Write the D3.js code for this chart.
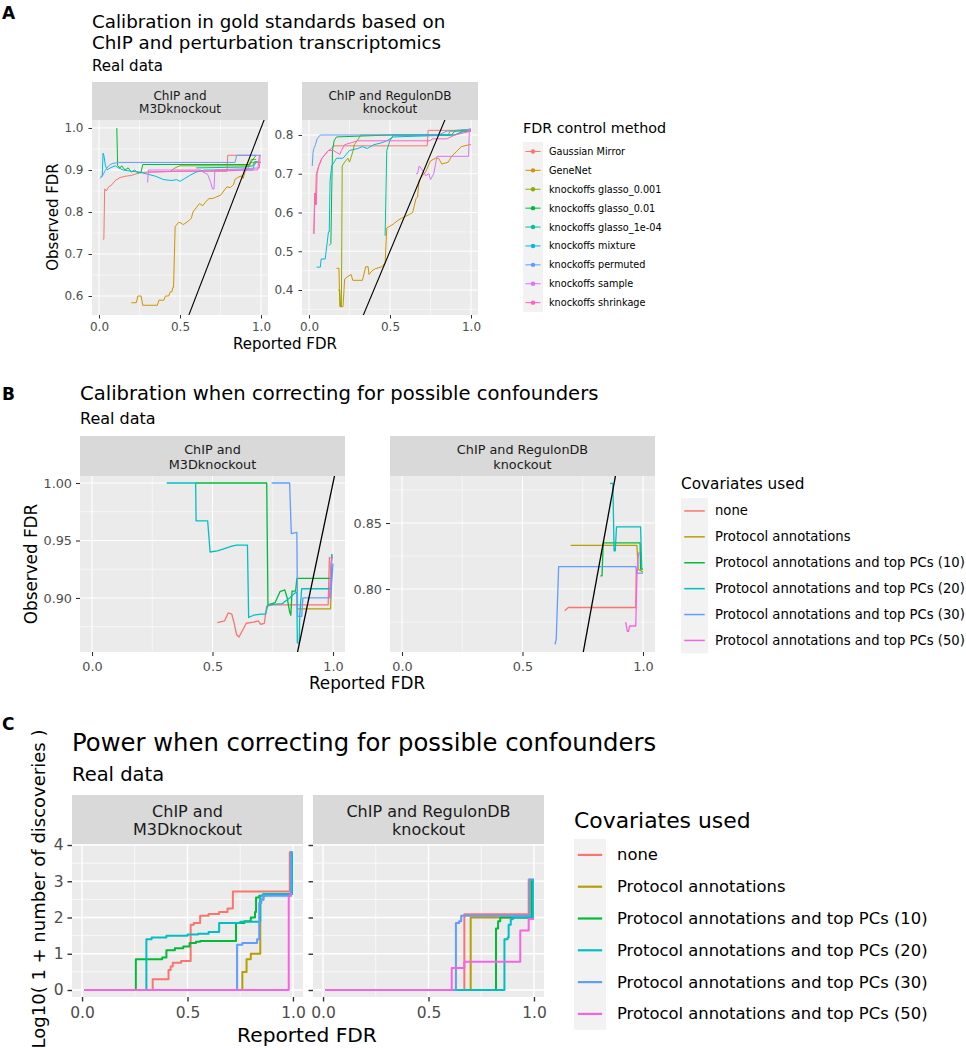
<!DOCTYPE html>
<html><head><meta charset="utf-8">
<script src="https://cdn.jsdelivr.net/npm/d3@7"></script>
<style>body{margin:0;background:#fff}svg{display:block;font-family:"DejaVu Sans",sans-serif}</style>
</head><body><svg id="c" width="966" height="1050"></svg>
<script>
// ---------------- categories ----------------
const methodsA = ["Gaussian Mirror","GeneNet","knockoffs glasso_0.001","knockoffs glasso_0.01","knockoffs glasso_1e-04","knockoffs mixture","knockoffs permuted","knockoffs sample","knockoffs shrinkage"];
const colorsA = ["#F8766D","#D39200","#93AA00","#00BA38","#00C19F","#00B9E3","#619CFF","#DB72FB","#FF61C3"];
const covariates = ["none","Protocol annotations","Protocol annotations and top PCs (10)","Protocol annotations and top PCs (20)","Protocol annotations and top PCs (30)","Protocol annotations and top PCs (50)"];
const colorsCov = ["#F8766D","#B79F00","#00BA38","#00BFC4","#619CFF","#F564E3"];
const facetM3D = ["ChIP and","M3Dknockout"];
const facetReg = ["ChIP and RegulonDB","knockout"];

// ---------------- tick values / labels ----------------
const xTicks = [0, 0.5, 1];
const xTickLabels = ["0.0","0.5","1.0"];
const yTicksA1 = [0.6,0.7,0.8,0.9,1.0];
const yTickLabelsA1 = ["0.6","0.7","0.8","0.9","1.0"];
const yTicksA2 = [0.4,0.5,0.6,0.7,0.8];
const yTickLabelsA2 = ["0.4","0.5","0.6","0.7","0.8"];
const yTicksB1 = [0.90,0.95,1.00];
const yTickLabelsB1 = ["0.90","0.95","1.00"];
const yTicksB2 = [0.80,0.85];
const yTickLabelsB2 = ["0.80","0.85"];
const yTicksC = [0,1,2,3,4];
const yTickLabelsC = ["0","1","2","3","4"];

// ---------------- Panel A: ChIP and M3Dknockout  [reported FDR, observed FDR] ----------------
const aM3D_gaussianMirror = [[0.025,0.735],[0.03,0.735],[0.035,0.855],[0.045,0.85],[0.06,0.86],[0.08,0.865],[0.1,0.875],[0.13,0.882],[0.16,0.885],[0.2,0.887],[0.25,0.893],[0.3,0.895],[0.5,0.897],[0.79,0.897],[0.795,0.935],[0.97,0.935]];
const aM3D_geneNet = [[0.2,0.584],[0.23,0.584],[0.24,0.6],[0.26,0.6],[0.27,0.578],[0.36,0.578],[0.37,0.59],[0.4,0.59],[0.41,0.6],[0.43,0.6],[0.44,0.61],[0.45,0.61],[0.455,0.62],[0.46,0.62],[0.47,0.765],[0.49,0.775],[0.5,0.775],[0.52,0.77],[0.55,0.778],[0.57,0.785],[0.58,0.8],[0.6,0.81],[0.62,0.82],[0.64,0.815],[0.66,0.825],[0.68,0.832],[0.7,0.832],[0.72,0.835],[0.75,0.84],[0.77,0.85],[0.79,0.86],[0.81,0.858],[0.83,0.865],[0.84,0.878],[0.86,0.883],[0.88,0.886],[0.89,0.88],[0.9,0.895],[0.92,0.905],[0.93,0.918],[1.0,0.918]];
const aM3D_glasso001 = [[0.44,0.895],[0.45,0.9],[0.47,0.905],[0.5,0.91],[0.93,0.91],[0.94,0.925],[0.97,0.925]];
const aM3D_glasso01 = [[0.11,1.0],[0.115,0.91],[0.13,0.905],[0.14,0.91],[0.16,0.9],[0.18,0.905],[0.2,0.895],[0.22,0.9],[0.24,0.893],[0.26,0.895],[0.27,0.913],[0.93,0.913],[0.94,0.92],[0.96,0.93],[0.97,0.935]];
const aM3D_glasso1e4 = [[0.6,0.905],[0.9,0.907],[0.95,0.91],[0.96,0.92],[0.98,0.92]];
const aM3D_mixture = [[0.01,0.885],[0.02,0.885],[0.025,0.94],[0.03,0.935],[0.04,0.91],[0.05,0.9],[0.07,0.905],[0.1,0.91],[0.12,0.905],[0.15,0.9],[0.2,0.897],[0.25,0.895],[0.3,0.89],[0.35,0.885],[0.4,0.877],[0.45,0.875],[0.48,0.877],[0.5,0.873],[0.53,0.88],[0.56,0.887],[0.6,0.895],[0.65,0.9],[0.95,0.9],[0.96,0.915],[0.97,0.915]];
const aM3D_permuted = [[0.005,0.88],[0.02,0.885],[0.04,0.9],[0.06,0.91],[0.08,0.915],[0.12,0.918],[0.84,0.918],[0.85,0.935],[1.0,0.935]];
const aM3D_sample = [[0.3,0.87],[0.305,0.9],[0.63,0.9],[0.64,0.895],[0.67,0.89],[0.69,0.87],[0.7,0.855],[0.71,0.855],[0.715,0.9],[0.9,0.903],[0.99,0.905],[0.995,0.935]];
const aM3D_shrinkage = [[0.3,0.895],[0.5,0.897],[0.8,0.898],[0.9,0.9],[0.98,0.9],[0.99,0.935]];

// ---------------- Panel A: ChIP and RegulonDB knockout ----------------
const aReg_gaussianMirror = [[0.03,0.545],[0.035,0.65],[0.04,0.62],[0.045,0.7],[0.06,0.72],[0.08,0.74],[0.1,0.75],[0.12,0.76],[0.14,0.765],[0.15,0.772],[0.73,0.772],[0.735,0.812],[1.0,0.812]];
const aReg_geneNet = [[0.17,0.456],[0.185,0.456],[0.19,0.357],[0.21,0.357],[0.22,0.428],[0.24,0.435],[0.26,0.44],[0.27,0.425],[0.33,0.425],[0.35,0.46],[0.365,0.46],[0.37,0.44],[0.39,0.45],[0.41,0.455],[0.45,0.46],[0.47,0.47],[0.48,0.56],[0.5,0.565],[0.52,0.57],[0.55,0.58],[0.57,0.585],[0.62,0.595],[0.64,0.6],[0.66,0.635],[0.67,0.64],[0.68,0.683],[0.7,0.695],[0.72,0.705],[0.75,0.733],[0.78,0.74],[0.8,0.74],[0.82,0.725],[0.86,0.73],[0.88,0.745],[0.91,0.757],[0.94,0.77],[0.99,0.775],[1.0,0.775]];
const aReg_glasso001 = [[0.18,0.4],[0.19,0.4],[0.195,0.357],[0.2,0.357],[0.205,0.72],[0.22,0.73],[0.24,0.74],[0.25,0.73],[0.27,0.756],[0.28,0.775],[0.3,0.787],[0.32,0.8],[0.86,0.8],[0.87,0.81],[1.0,0.81]];
const aReg_glasso01 = [[0.125,0.515],[0.135,0.52],[0.14,0.65],[0.145,0.76],[0.155,0.785],[0.17,0.795],[0.5,0.8],[0.88,0.8],[0.9,0.81],[1.0,0.815]];
const aReg_glasso1e4 = [[0.47,0.54],[0.475,0.65],[0.48,0.76],[0.5,0.785],[0.52,0.8],[0.9,0.8],[0.95,0.808],[1.0,0.81]];
const aReg_mixture = [[0.047,0.459],[0.07,0.459],[0.075,0.48],[0.1,0.48],[0.12,0.55],[0.125,0.55],[0.13,0.68],[0.14,0.72],[0.17,0.74],[0.21,0.74],[0.25,0.76],[0.3,0.765],[0.33,0.77],[0.36,0.765],[0.4,0.775],[0.45,0.78],[0.48,0.785],[0.52,0.795],[0.9,0.8],[0.95,0.81]];
const aReg_permuted = [[0.02,0.72],[0.025,0.755],[0.03,0.765],[0.04,0.775],[0.05,0.79],[0.07,0.8],[0.8,0.8],[0.85,0.81],[1.0,0.815]];
const aReg_sample = [[0.66,0.7],[0.67,0.7],[0.68,0.72],[0.7,0.71],[0.72,0.695],[0.74,0.7],[0.75,0.685],[0.77,0.7],[0.79,0.745],[0.985,0.745],[0.99,0.815],[1.0,0.815]];
const aReg_shrinkage = [[0.03,0.545],[0.035,0.62],[0.04,0.65],[0.045,0.62],[0.05,0.7],[0.06,0.72],[0.08,0.74],[0.1,0.75],[0.12,0.76],[0.15,0.76],[0.17,0.755],[0.19,0.75],[0.2,0.76],[0.22,0.775],[0.26,0.78],[0.3,0.785],[0.75,0.785],[0.76,0.79],[0.85,0.79],[0.9,0.8],[1.0,0.81]];

// ---------------- Panel B: ChIP and M3Dknockout ----------------
const bM3D_none = [[0.52,0.8785],[0.55,0.88],[0.565,0.887],[0.58,0.886],[0.59,0.878],[0.6,0.868],[0.61,0.866],[0.62,0.87],[0.64,0.878],[0.67,0.879],[0.69,0.88],[0.7,0.877],[0.715,0.878],[0.725,0.893],[0.75,0.894],[0.98,0.894],[0.985,0.935],[0.99,0.935]];
const bM3D_protocol = [[0.85,0.8905],[0.99,0.8905],[0.995,0.93]];
const bM3D_pc10 = [[0.43,1.0],[0.725,1.0],[0.73,0.894],[0.76,0.896],[0.78,0.9055],[0.8,0.907],[0.81,0.9],[0.82,0.888],[0.825,0.885],[0.83,0.906],[0.845,0.906],[0.85,0.917],[0.99,0.917],[0.995,0.938]];
const bM3D_pc20 = [[0.31,1.0],[0.43,1.0],[0.432,0.967],[0.48,0.967],[0.49,0.94],[0.52,0.941],[0.55,0.943],[0.58,0.945],[0.6,0.946],[0.645,0.946],[0.65,0.883],[0.67,0.885],[0.7,0.886],[0.72,0.886],[0.73,0.894],[0.79,0.895],[0.8,0.897],[0.82,0.9],[0.84,0.904],[0.85,0.905],[0.852,0.861],[0.86,0.861],[0.862,0.885],[0.87,0.908],[0.99,0.908],[0.995,0.938]];
const bM3D_pc30 = [[0.745,1.0],[0.82,1.0],[0.827,0.956],[0.85,0.957],[0.853,0.884],[0.87,0.884],[0.875,0.9],[0.99,0.9],[1.0,0.93]];
const bM3D_pc50 = [[0.985,0.9],[0.99,0.92],[0.995,0.935],[1.0,0.935]];

// ---------------- Panel B: ChIP and RegulonDB knockout ----------------
const bReg_none = [[0.675,0.7835],[0.69,0.786],[0.97,0.786],[0.972,0.814],[0.98,0.814]];
const bReg_protocol = [[0.7,0.833],[0.975,0.833],[0.98,0.815],[1.0,0.813]];
const bReg_pc10 = [[0.823,0.81],[0.83,0.81],[0.835,0.835],[0.988,0.835],[0.99,0.815],[1.0,0.815]];
const bReg_pc20 = [[0.863,0.88],[0.875,0.88],[0.88,0.829],[0.885,0.829],[0.89,0.847],[0.9,0.847],[0.99,0.847],[0.995,0.815]];
const bReg_pc30 = [[0.635,0.758],[0.64,0.762],[0.65,0.817],[0.97,0.817],[0.975,0.812],[1.0,0.812]];
const bReg_pc50 = [[0.928,0.775],[0.935,0.768],[0.94,0.768],[0.945,0.772],[0.97,0.772],[0.975,0.812],[0.98,0.825],[0.985,0.828]];

// ---------------- Panel C: ChIP and M3Dknockout  [reported FDR, log10(1+discoveries)] ----------------
const cM3D_none = [[0.01,0],[0.33,0],[0.335,0.3],[0.4,0.3],[0.41,0.55],[0.42,0.65],[0.43,0.75],[0.47,0.8],[0.51,0.8],[0.515,1.8],[0.53,1.85],[0.55,1.85],[0.56,2.05],[0.6,2.1],[0.65,2.15],[0.69,2.25],[0.71,2.25],[0.715,2.72],[0.98,2.72],[0.985,3.8],[0.99,3.8]];
const cM3D_protocol = [[0.01,0],[0.755,0],[0.76,0.5],[0.78,0.85],[0.8,1.0],[0.84,1.0],[0.845,2.5],[0.86,2.6],[0.87,2.65],[0.985,2.65],[0.99,3.8],[0.995,3.8]];
const cM3D_pc10 = [[0.01,0],[0.25,0],[0.255,0.85],[0.36,0.85],[0.38,0.9],[0.4,1.1],[0.44,1.15],[0.48,1.2],[0.51,1.3],[0.54,1.33],[0.56,1.35],[0.72,1.35],[0.73,1.85],[0.77,1.9],[0.8,2.0],[0.82,2.15],[0.825,2.55],[0.84,2.6],[0.86,2.65],[0.99,2.65],[0.995,3.8],[0.998,3.8]];
const cM3D_pc20 = [[0.01,0],[0.3,0],[0.305,1.4],[0.33,1.45],[0.4,1.5],[0.5,1.53],[0.55,1.55],[0.6,1.6],[0.645,1.6],[0.65,1.85],[0.75,1.88],[0.84,1.9],[0.845,2.6],[0.86,2.65],[0.99,2.65],[0.995,3.8],[0.997,3.8]];
const cM3D_pc30 = [[0.01,0],[0.73,0],[0.735,1.25],[0.76,1.3],[0.83,1.4],[0.84,2.4],[0.85,2.5],[0.86,2.6],[0.985,2.6],[0.99,3.8],[0.993,3.8]];
const cM3D_pc50 = [[0.01,0],[0.975,0],[0.98,2.6],[0.99,2.65],[0.995,2.65]];

// ---------------- Panel C: ChIP and RegulonDB knockout ----------------
const cReg_none = [[0.01,0],[0.665,0],[0.67,2.09],[0.97,2.09],[0.975,3.05],[0.985,3.05]];
const cReg_protocol = [[0.01,0],[0.695,0],[0.7,2.0],[0.975,2.0],[0.98,3.0],[0.99,3.0]];
const cReg_pc10 = [[0.01,0],[0.815,0],[0.82,1.7],[0.83,1.9],[0.84,2.0],[0.985,2.0],[0.99,3.0],[0.995,3.0]];
const cReg_pc20 = [[0.01,0],[0.855,0],[0.86,1.4],[0.875,1.45],[0.88,1.8],[0.89,1.95],[0.9,2.0],[0.99,2.0],[0.995,3.05],[1.0,3.05]];
const cReg_pc30 = [[0.01,0],[0.625,0],[0.63,1.85],[0.645,1.9],[0.655,2.05],[0.975,2.05],[0.98,3.05],[0.995,3.05]];
const cReg_pc50 = [[0.01,0],[0.6,0],[0.61,0.61],[0.665,0.61],[0.67,0.78],[0.93,0.78],[0.935,1.64],[0.97,1.64],[0.975,1.96],[1.0,1.96]];

// ---------------- drawing ----------------
const svg = d3.select("#c");
const defs = svg.append("defs");
let clipN = 0;

function drawFacet(o) {
  const g = svg.append("g");
  const x = d3.scaleLinear().domain(o.xDom).range([o.x0, o.x1]);
  const y = d3.scaleLinear().domain(o.yDom).range([o.y1, o.y0]);
  // strip
  g.append("rect").attr("x", o.x0).attr("y", o.sy).attr("width", o.x1 - o.x0).attr("height", o.y0 - o.sy).attr("fill", "#D9D9D9");
  o.strip.forEach((t, i) => g.append("text").attr("x", (o.x0 + o.x1) / 2).attr("y", o.stripBase[i])
    .attr("text-anchor", "middle").attr("font-size", o.stripFont).attr("fill", "#1A1A1A").text(t));
  // panel
  g.append("rect").attr("x", o.x0).attr("y", o.y0).attr("width", o.x1 - o.x0).attr("height", o.y1 - o.y0).attr("fill", "#EBEBEB");
  const inY = v => v >= o.yDom[0] && v <= o.yDom[1];
  const xMinor = [0.25, 0.75];
  const yMinor = [];
  const step = o.yTicks[1] - o.yTicks[0];
  for (let i = 0; i < o.yTicks.length + 1; i++) {
    const v = o.yTicks[0] - step / 2 + i * step;
    if (inY(v)) yMinor.push(v);
  }
  xMinor.forEach(v => g.append("line").attr("x1", x(v)).attr("x2", x(v)).attr("y1", o.y0).attr("y2", o.y1).attr("stroke", "#fff").attr("stroke-width", o.gw / 2));
  yMinor.forEach(v => g.append("line").attr("y1", y(v)).attr("y2", y(v)).attr("x1", o.x0).attr("x2", o.x1).attr("stroke", "#fff").attr("stroke-width", o.gw / 2));
  xTicks.forEach(v => g.append("line").attr("x1", x(v)).attr("x2", x(v)).attr("y1", o.y0).attr("y2", o.y1).attr("stroke", "#fff").attr("stroke-width", o.gw));
  o.yTicks.forEach(v => g.append("line").attr("y1", y(v)).attr("y2", y(v)).attr("x1", o.x0).attr("x2", o.x1).attr("stroke", "#fff").attr("stroke-width", o.gw));
  // clip
  const cid = "clip" + (clipN++);
  defs.append("clipPath").attr("id", cid).append("rect").attr("x", o.x0).attr("y", o.y0).attr("width", o.x1 - o.x0).attr("height", o.y1 - o.y0);
  const pg = g.append("g").attr("clip-path", `url(#${cid})`);
  const line = d3.line().x(d => x(d[0])).y(d => y(d[1])).curve(o.curve);
  o.series.forEach((s, i) => pg.append("path").attr("d", line(s)).attr("fill", "none")
    .attr("stroke", o.colors[i]).attr("stroke-width", o.lw).attr("stroke-linejoin", "round"));
  if (o.abline) {
    const lo = Math.min(o.xDom[0], o.yDom[0]), hi = Math.max(o.xDom[1], o.yDom[1]);
    pg.append("path").attr("d", d3.line().x(d => x(d[0])).y(d => y(d[1]))([[lo, lo], [hi, hi]]))
      .attr("stroke", "#000").attr("stroke-width", o.alw).attr("fill", "none");
  }
  // axes
  const ax = d3.axisBottom(x).tickValues(xTicks).tickFormat((d, i) => xTickLabels[i]).tickSize(o.tl).tickPadding(o.xtp);
  const axg = g.append("g").attr("transform", `translate(0,${o.y1})`).call(ax);
  axg.select(".domain").remove();
  axg.selectAll("line").attr("stroke", "#333333").attr("stroke-width", o.gw);
  axg.selectAll("text").attr("fill", "#4D4D4D").attr("font-size", o.tickFont).attr("font-family", "DejaVu Sans");
  const ay = d3.axisLeft(y).tickValues(o.yTicks).tickSize(o.tl).tickPadding(o.ytp)
    .tickFormat((d, i) => o.yLabels ? o.yLabels[i] : "");
  const ayg = g.append("g").attr("transform", `translate(${o.x0},0)`).call(ay);
  ayg.select(".domain").remove();
  ayg.selectAll("line").attr("stroke", "#333333").attr("stroke-width", o.gw);
  ayg.selectAll("text").attr("fill", "#4D4D4D").attr("font-size", o.tickFont).attr("font-family", "DejaVu Sans");
}

function text(x, y, s, size, opts = {}) {
  const t = svg.append("text").attr("x", x).attr("y", y).attr("font-size", size)
    .attr("fill", opts.fill || "#000").attr("text-anchor", opts.anchor || "start").text(s);
  if (opts.bold) t.attr("font-weight", "bold");
  if (opts.rotate) t.attr("transform", `rotate(-90,${x},${y})`).attr("dominant-baseline", "central");
  return t;
}

function legend(o) {
  text(o.x, o.titleY, o.title, o.titleFont);
  svg.append("rect").attr("x", o.x).attr("y", o.y).attr("width", o.kw).attr("height", o.kh * o.labels.length).attr("fill", "#F2F2F2");
  o.labels.forEach((l, i) => {
    const cy = o.y + o.kh * (i + 0.5);
    svg.append("line").attr("x1", o.x + o.kw * 0.12).attr("x2", o.x + o.kw * 0.88).attr("y1", cy).attr("y2", cy)
      .attr("stroke", o.colors[i]).attr("stroke-width", o.lw);
    if (o.point) svg.append("circle").attr("cx", o.x + o.kw / 2).attr("cy", cy).attr("r", o.point).attr("fill", o.colors[i]);
    text(o.tx, cy, l, o.labelFont).attr("dominant-baseline", "central");
  });
}

// ======== Panel A ========
text(2, 19, "A", 17, {bold: true});
text(92, 28, "Calibration in gold standards based on", 18.3);
text(92, 49, "ChIP and perturbation transcriptomics", 18.3);
text(92, 71, "Real data", 15);
const aCommon = {xDom: [-0.0432, 1.0432], y0: 120, y1: 315, sy: 82, stripFont: 12, stripBase: [99.5, 113],
  tickFont: 12, tl: 3.5, xtp: 4, ytp: 5, gw: 1, lw: 1, alw: 1.1, abline: true, curve: d3.curveLinear, colors: colorsA};
drawFacet(Object.assign({}, aCommon, {x0: 92, x1: 268, yDom: [0.5548, 1.019], yTicks: yTicksA1, yLabels: yTickLabelsA1, strip: facetM3D,
  series: [aM3D_gaussianMirror, aM3D_geneNet, aM3D_glasso001, aM3D_glasso01, aM3D_glasso1e4, aM3D_mixture, aM3D_permuted, aM3D_sample, aM3D_shrinkage]}));
drawFacet(Object.assign({}, aCommon, {x0: 302, x1: 478, yDom: [0.3355, 0.8387], yTicks: yTicksA2, yLabels: yTickLabelsA2, strip: facetReg,
  series: [aReg_gaussianMirror, aReg_geneNet, aReg_glasso001, aReg_glasso01, aReg_glasso1e4, aReg_mixture, aReg_permuted, aReg_sample, aReg_shrinkage]}));
text(285, 349, "Reported FDR", 15, {anchor: "middle"});
text(53, 217, "Observed FDR", 15, {anchor: "middle", rotate: true});
legend({x: 523, titleY: 133, title: "FDR control method", titleFont: 14.3, y: 142, kw: 20, kh: 18.9, tx: 549,
  labelFont: 9.7, labels: methodsA, colors: colorsA, lw: 1, point: 2.2});

// ======== Panel B ========
text(2, 400, "B", 17, {bold: true});
text(80, 400, "Calibration when correcting for possible confounders", 19.6);
text(80, 424, "Real data", 16);
const bCommon = {xDom: [-0.0498, 1.0498], y0: 476, y1: 652, sy: 436, stripFont: 12.8, stripBase: [454, 468.5],
  tickFont: 12.8, tl: 4, xtp: 6, ytp: 4, gw: 1.1, lw: 1.3, alw: 1.3, abline: true, curve: d3.curveLinear, colors: colorsCov};
drawFacet(Object.assign({}, bCommon, {x0: 80, x1: 345, yDom: [0.853, 1.0061], yTicks: yTicksB1, yLabels: yTickLabelsB1, strip: facetM3D,
  series: [bM3D_none, bM3D_protocol, bM3D_pc10, bM3D_pc20, bM3D_pc30, bM3D_pc50]}));
drawFacet(Object.assign({}, bCommon, {x0: 390, x1: 655, yDom: [0.7523, 0.8856], yTicks: yTicksB2, yLabels: yTickLabelsB2, strip: facetReg,
  series: [bReg_none, bReg_protocol, bReg_pc10, bReg_pc20, bReg_pc30, bReg_pc50]}));
text(367, 689, "Reported FDR", 16.8, {anchor: "middle"});
text(31, 564, "Observed FDR", 16.8, {anchor: "middle", rotate: true});
legend({x: 681, titleY: 489, title: "Covariates used", titleFont: 15.3, y: 498, kw: 27, kh: 25.9, tx: 715,
  labelFont: 13.2, labels: covariates, colors: colorsCov, lw: 1.5});

// ======== Panel C ========
text(2, 730, "C", 17, {bold: true});
text(72, 751, "Power when correcting for possible confounders", 24.3);
text(72, 781, "Real data", 19.5);
const cCommon = {xDom: [-0.0476, 1.0476], y0: 844, y1: 997, sy: 795, stripFont: 16, stripBase: [817, 835],
  tickFont: 15.5, tl: 4.5, xtp: 5, ytp: 4, gw: 1.4, lw: 2, alw: 1.5, abline: false, curve: d3.curveStepAfter, colors: colorsCov,
  yDom: [-0.193, 4.028], yTicks: yTicksC};
drawFacet(Object.assign({}, cCommon, {x0: 72, x1: 303, yLabels: yTickLabelsC, strip: facetM3D,
  series: [cM3D_none, cM3D_protocol, cM3D_pc10, cM3D_pc20, cM3D_pc30, cM3D_pc50]}));
drawFacet(Object.assign({}, cCommon, {x0: 313, x1: 544, yLabels: null, strip: facetReg,
  series: [cReg_none, cReg_protocol, cReg_pc10, cReg_pc20, cReg_pc30, cReg_pc50]}));
text(307, 1042, "Reported FDR", 20.2, {anchor: "middle"});
text(38, 889, "Log10( 1 + number of discoveries )", 18, {anchor: "middle", rotate: true});
legend({x: 574, titleY: 828, title: "Covariates used", titleFont: 21.9, y: 839, kw: 32, kh: 31.8, tx: 617,
  labelFont: 16.4, labels: covariates, colors: colorsCov, lw: 2.2});
</script></body></html>
